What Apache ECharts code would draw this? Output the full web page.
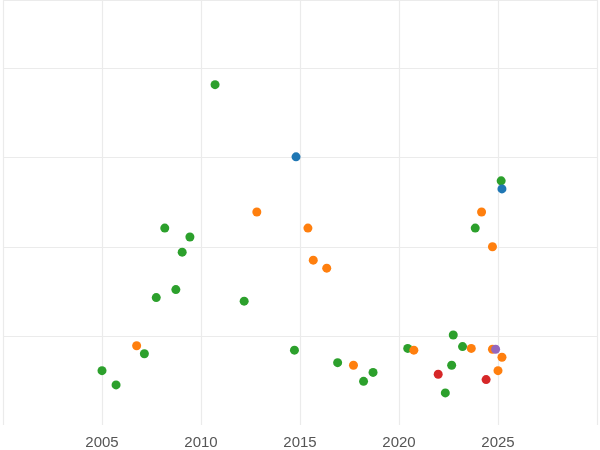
<!DOCTYPE html><html><head><meta charset="utf-8"><script src="https://cdn.jsdelivr.net/npm/echarts@6/dist/echarts.min.js"></script>
<style>html,body{margin:0;padding:0;background:#fff}#c{width:600px;height:450px}</style></head><body><div id="c"></div><script>
const greenX=[2005.0,2005.71,2007.14,2007.74,2008.17,2008.73,2009.05,2009.44,2010.71,2012.18,2014.72,2016.90,2018.21,2018.69,2020.44,2022.34,2022.66,2022.74,2023.21,2023.85,2025.16];
const greenY=[0.61,0.45,0.80,1.43,2.21,1.52,1.94,2.11,3.82,1.39,0.84,0.70,0.49,0.59,0.86,0.36,0.67,1.01,0.88,2.21,2.74];
const orangeX=[2006.75,2012.82,2015.40,2015.67,2016.35,2017.70,2020.75,2023.65,2024.17,2024.72,2024.72,2025.0,2025.20];
const orangeY=[0.89,2.39,2.21,1.85,1.76,0.67,0.84,0.86,2.39,2.00,0.85,0.61,0.76];
const blueX=[2014.80,2025.20], blueY=[3.01,2.65];
const redX=[2021.98,2024.40], redY=[0.57,0.51];
const purpleX=[2024.88], purpleY=[0.85];
const xTicks=[2005,2010,2015,2020,2025];
const zip=(a,b)=>a.map((v,i)=>[v,b[i]]);
const s=(x,y,c)=>({type:'scatter',data:zip(x,y),symbolSize:9,itemStyle:{color:c,opacity:1}});
const g='#ebebeb';
const ch=echarts.init(document.getElementById('c'));
ch.setOption({animation:false,grid:{left:-76,right:-79,top:0,bottom:22},
xAxis:{type:'value',min:2000,max:2030,interval:5,axisLine:{show:false},axisTick:{show:false},
 axisLabel:{color:'#555',fontSize:15,margin:10,formatter:v=>xTicks.includes(v)?String(v):''},
 splitLine:{lineStyle:{color:g,width:1.2}}},
yAxis:{type:'value',min:0,max:4.77,interval:1,axisLine:{show:false},axisTick:{show:false},axisLabel:{show:false},
 splitLine:{lineStyle:{color:['rgba(0,0,0,0)',g,g,g,g,g],width:1.2}}},
series:[s(greenX,greenY,'#2ca02c'),s(orangeX,orangeY,'#ff7f0e'),s(blueX,blueY,'#1f77b4'),s(redX,redY,'#d62728'),s(purpleX,purpleY,'#9467bd')]});
</script></body></html>
